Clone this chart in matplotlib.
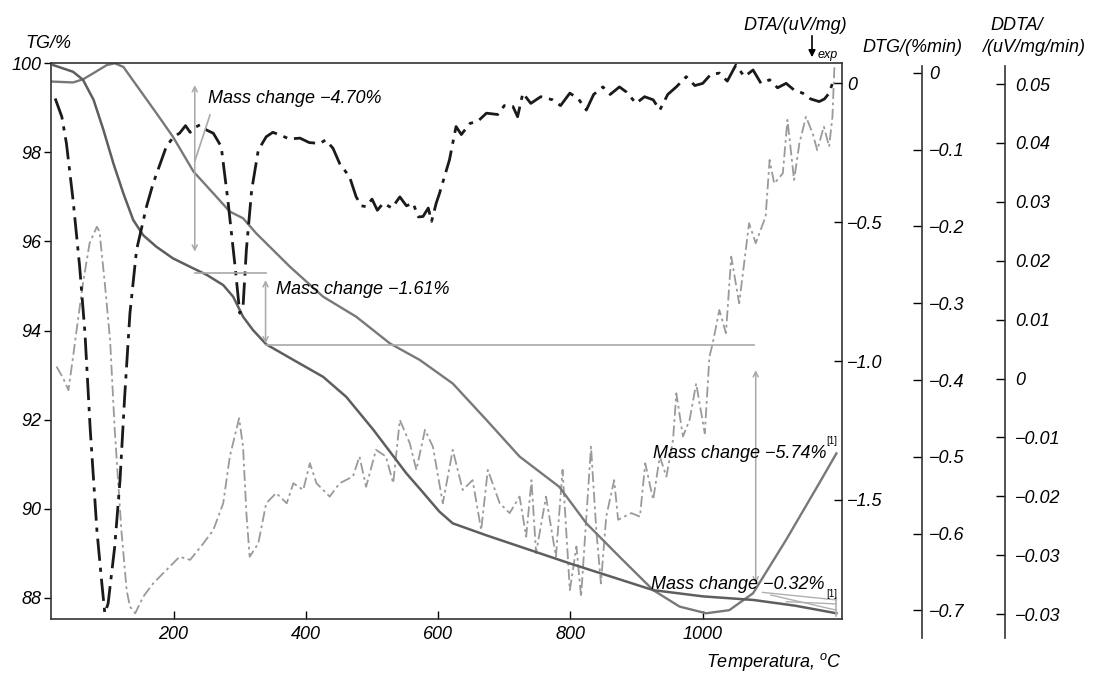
import matplotlib.pyplot as plt
import numpy as np

plt.rcParams['font.family'] = ['Liberation Sans', 'DejaVu Sans']
plt.rcParams['font.style'] = 'italic'
plt.rcParams['mathtext.fontset'] = 'custom'
plt.rcParams['mathtext.it'] = 'Liberation Sans:italic'
plt.rcParams['mathtext.rm'] = 'Liberation Sans:italic'

W, H = 1107, 675
FS = 13

# TG curve (dark solid), temperature in C / mass in %
tg_t = [18, 48, 63, 79, 94, 109, 124, 139, 154, 174, 199, 225, 250, 275, 290, 305, 320, 340,
        381, 426, 461, 502, 552, 572, 602, 622, 673, 723, 799, 925, 1000, 1076, 1140, 1202]
tg_v = [99.96, 99.81, 99.63, 99.18, 98.5, 97.75, 97.08, 96.48, 96.14, 95.88, 95.62, 95.43, 95.25, 95.02, 94.76, 94.31, 94.01, 93.69,
        93.34, 92.96, 92.51, 91.77, 90.79, 90.45, 89.93, 89.67, 89.4, 89.15, 88.77, 88.17, 88.03, 87.95, 87.82, 87.65]

# second solid curve (upper line)
up_t = [16, 48, 63, 79, 99, 111, 124, 149, 174, 199, 230, 260, 285, 305, 325, 376, 426, 476, 527, 572,
        622, 673, 723, 783, 824, 874, 925, 965, 1005, 1040, 1076, 1126, 1176, 1202]
up_v = [99.59, 99.57, 99.64, 99.78, 99.96, 100.0, 99.92, 99.4, 98.88, 98.35, 97.57, 97.08, 96.67, 96.52, 96.18, 95.43, 94.76, 94.31, 93.71, 93.34,
        92.81, 91.99, 91.17, 90.49, 89.67, 88.92, 88.17, 87.8, 87.65, 87.72, 88.1, 89.3, 90.57, 91.24]

# DTA curve (black dash-dot), read on the TG scale
dta_t = [21, 31, 38, 48, 58, 66, 74, 84, 91, 96, 101, 111, 119, 126, 134, 144, 159, 169, 189, 200,
         209, 218, 225, 230, 240, 250, 260, 272, 282, 293, 300, 305, 310, 318, 328, 340, 350, 361, 375, 391,
         405, 421, 430, 441, 451, 466, 476, 484, 491, 500, 508, 517, 530, 542, 552, 562, 570, 577, 585, 590,
         597, 602, 617, 627, 635, 648, 660, 673, 690, 700, 713, 720, 728, 740, 755, 773, 785, 799, 812, 824,
         835, 849, 860, 874, 885, 899, 912, 925, 935, 947, 960, 975, 988, 1000, 1012, 1025, 1037, 1050, 1063, 1076,
         1088, 1101, 1113, 1126, 1138, 1151, 1163, 1176, 1184, 1191, 1196]
dta_v = [99.21, 98.8, 98.2, 96.93, 95.43, 93.94, 91.77, 89.52, 88.4, 87.65, 87.87, 89.15, 90.64, 92.51, 94.39, 95.81, 96.78, 97.3, 98.13, 98.35,
         98.43, 98.6, 98.45, 98.54, 98.62, 98.5, 98.43, 98.13, 96.93, 95.43, 94.39, 94.54, 95.81, 97.15, 98.05, 98.35, 98.45, 98.39, 98.3, 98.32,
         98.22, 98.2, 98.28, 98.09, 97.75, 97.45, 97.0, 96.8, 96.78, 96.95, 96.7, 96.86, 96.75, 97.0, 96.8, 96.86, 96.55, 96.56, 96.75, 96.45,
         96.86, 97.08, 97.83, 98.58, 98.4, 98.65, 98.7, 98.88, 98.85, 99.05, 99.03, 98.8, 99.33, 99.1, 99.25, 99.18, 99.05, 99.33, 99.2, 98.95,
         99.3, 99.47, 99.3, 99.47, 99.35, 99.1, 99.25, 99.18, 98.95, 99.3, 99.47, 99.7, 99.5, 99.55, 99.75, 99.78, 99.6, 99.96, 99.7, 99.85,
         99.55, 99.63, 99.45, 99.55, 99.4, 99.33, 99.2, 99.14, 99.2, 99.33, 99.55]

# light grey dash-dot curve, read on the TG scale
lg_t = [23, 33, 41, 48, 53, 63, 73, 84, 88, 96, 104, 111, 121, 129, 134, 142, 154, 169, 189, 209,
        225, 245, 260, 275, 285, 299, 305, 310, 315, 328, 340, 355, 371, 381, 396, 406, 416, 436, 451, 471,
        481, 491, 506, 521, 532, 542, 557, 567, 580, 592, 607, 622, 637, 652, 665, 675, 693, 708, 723, 733,
        741, 748, 763, 778, 788, 799, 809, 816, 831, 839, 846, 854, 866, 872, 892, 905, 913, 925, 935, 945,
        955, 960, 970, 980, 990, 1003, 1010, 1015, 1025, 1035, 1043, 1055, 1070, 1080, 1095, 1101, 1108, 1121, 1128, 1138,
        1146, 1156, 1166, 1173, 1183, 1191, 1196, 1199]
lg_v = [93.19, 92.93, 92.66, 93.41, 93.97, 95.06, 95.96, 96.33, 96.22, 95.06, 93.78, 91.77, 89.52, 88.17, 87.8, 87.65, 88.02, 88.32, 88.62, 88.92,
        88.85, 89.22, 89.52, 90.12, 91.17, 92.03, 91.39, 89.9, 88.92, 89.22, 90.12, 90.35, 90.12, 90.57, 90.42, 91.02, 90.57, 90.27, 90.57, 90.72,
        91.17, 90.49, 91.32, 91.17, 90.57, 91.99, 91.47, 90.87, 91.77, 91.39, 90.12, 91.32, 90.42, 90.64, 89.52, 90.87, 90.12, 89.9, 90.27, 89.37,
        90.64, 89.0, 90.27, 88.92, 90.87, 88.17, 89.15, 88.02, 91.39, 89.52, 88.32, 89.82, 90.64, 89.75, 89.9, 89.82, 91.02, 90.2, 91.17, 90.72,
        91.54, 92.59, 91.62, 91.99, 92.81, 91.69, 93.41, 93.71, 94.46, 93.94, 95.66, 94.61, 96.41, 95.96, 96.56, 97.83, 97.3, 97.53, 98.73, 97.38,
        98.2, 98.8, 98.43, 98.05, 98.58, 98.13, 98.8, 99.92]

dta_ticks = [0, -0.5, -1.0, -1.5]
dta_labels = ['0', '−0.5', '−1.0', '−1.5']
dtg_ticks = [0, -0.1, -0.2, -0.3, -0.4, -0.5, -0.6, -0.7]
dtg_labels = ['0', '−0.1', '−0.2', '−0.3', '−0.4', '−0.5', '−0.6', '−0.7']
ddta_ticks = [0.05, 0.04, 0.03, 0.02, 0.01, 0, -0.01, -0.02, -0.03, -0.04]
ddta_labels = ['0.05', '0.04', '0.03', '0.02', '0.01', '0', '−0.01', '−0.02', '−0.03', '−0.03']


def fx(x):
    return x / W


def fy(y):
    return 1 - y / H


fig = plt.figure(figsize=(W / 100, H / 100), dpi=100)
ax = fig.add_axes([fx(50.7), fy(619.3), fx(841.7 - 50.7), (619.3 - 63.3) / H])
ax.set_xlim(14.2, 1210)
ax.set_ylim(87.515, 100)
ax.set_xticks([200, 400, 600, 800, 1000])
ax.set_yticks([88, 90, 92, 94, 96, 98, 100])
ax.tick_params(axis='x', direction='in', length=5.5, width=1, labelsize=FS, pad=5)
ax.tick_params(axis='y', direction='out', length=5, width=1, labelsize=FS, pad=1.5)
for s in ax.spines.values():
    s.set_color('#333333')
    s.set_linewidth(1.2)

ax.plot(lg_t, lg_v, color='#9a9a9a', lw=1.3, dashes=(6, 2, 1.5, 2))
ax.plot(up_t, up_v, color='#787878', lw=1.7)
ax.plot(tg_t, tg_v, color='#5e5e5e', lw=1.8)
ax.plot(dta_t, dta_v, color='#1a1a1a', lw=2.0, dashes=(8, 2.5, 1.5, 2.5))

# annotations
ann = dict(color='#a8a8a8', lw=1.2)
arr = dict(arrowstyle='<->', color='#a8a8a8', lw=1.1, mutation_scale=9, shrinkA=0, shrinkB=0)
ax.annotate('', xy=(232, 99.51), xytext=(232, 95.77), arrowprops=arr)
ax.plot([255, 232], [98.84, 97.8], **ann)
ax.plot([232, 340], [95.30, 95.30], **ann)
ax.annotate('', xy=(339, 95.13), xytext=(339, 93.71), arrowprops=arr)
ax.plot([340, 1078], [93.67, 93.67], **ann)
ax.annotate('', xy=(1080, 93.11), xytext=(1080, 88.32), arrowprops=arr)
ax.plot([1103, 1202], [88.06, 87.72], color='#b0b0b0', lw=1)
ax.plot([1126, 1202], [87.91, 87.86], color='#b0b0b0', lw=1)
ax.plot([1090, 1202], [88.12, 87.95], color='#b0b0b0', lw=1)
ax.plot([1202, 1202], [87.6, 88.0], color='#b0b0b0', lw=1.2)

ax.text(252, 99.21, 'Mass change −4.70%', fontsize=FS, va='center', ha='left')
ax.text(355, 94.91, 'Mass change −1.61%', fontsize=FS, va='center', ha='left')
ax.text(925, 91.23, 'Mass change −5.74%', fontsize=FS, va='center', ha='left')
ax.text(1187, 91.52, '[1]', fontsize=7, va='center', ha='left', style='normal')
ax.text(922, 88.29, 'Mass change −0.32%', fontsize=FS, va='center', ha='left')
ax.text(1187, 88.08, '[1]', fontsize=7, va='center', ha='left', style='normal')

# DTA axis on the right spine
ax2 = ax.twinx()
ax2.set_ylim(-1.9295, 0.072)
ax2.set_yticks(dta_ticks)
ax2.set_yticklabels(dta_labels)
ax2.tick_params(axis='y', direction='in', length=6, width=1, labelsize=FS, pad=4)
for s in ax2.spines.values():
    s.set_visible(False)

# DTG and DDTA separate axes
for xs, lims, ticks, labels, pad in [
        (922, (-0.7359, 0.00885), dtg_ticks, dtg_labels, 5),
        (1005, (-0.04406, 0.05306), ddta_ticks, ddta_labels, 7)]:
    a = fig.add_axes([fx(xs) - 0.01, fy(638), 0.01, (638 - 66) / H])
    a.patch.set_visible(False)
    for k, s in a.spines.items():
        s.set_visible(k == 'right')
    a.spines['right'].set_color('#333333')
    a.spines['right'].set_linewidth(1.2)
    a.set_xticks([])
    a.set_ylim(*lims)
    a.yaxis.tick_right()
    a.set_yticks(ticks)
    a.set_yticklabels(labels)
    a.tick_params(axis='y', direction='in', length=6.5, width=1, labelsize=FS, pad=pad)

# headings
fig.text(fx(25), fy(43), 'TG/%', fontsize=FS, va='center', ha='left')
fig.text(fx(842), fy(662), r'Temperatura, $^{o}$C', fontsize=FS, va='center', ha='right')
fig.text(fx(743), fy(25), 'DTA/(uV/mg)', fontsize=FS, va='center', ha='left')
fig.text(fx(862), fy(47), 'DTG/(%min)', fontsize=FS, va='center', ha='left')
fig.text(fx(990), fy(25), 'DDTA/', fontsize=FS, va='center', ha='left')
fig.text(fx(982), fy(47), '/(uV/mg/min)', fontsize=FS, va='center', ha='left')
fig.text(fx(818), fy(55), 'exp', fontsize=9, va='center', ha='left')
fig.add_artist(plt.matplotlib.patches.FancyArrowPatch(
    (fx(812), fy(33)), (fx(812), fy(60)), transform=fig.transFigure,
    arrowstyle='-|>', mutation_scale=10, color='black', lw=1.2))

fig.savefig('out.png', dpi=100)
